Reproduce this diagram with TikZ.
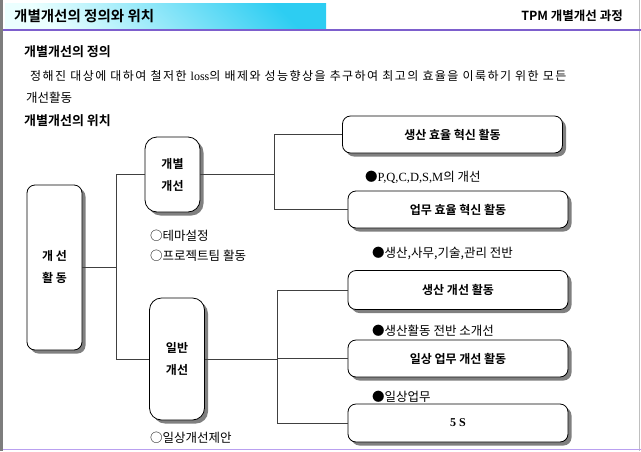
\documentclass[tikz,border=0pt]{standalone}
\usepackage{fontspec}
\setmainfont{Noto Sans CJK KR}[BoldFont={Noto Sans CJK KR Bold}]
\newfontfamily\latser{Liberation Serif}
\usetikzlibrary{shadows}
\definecolor{headcyan}{RGB}{45,205,242}
\definecolor{rulepurple}{RGB}{125,95,205}
\definecolor{lowpurple}{RGB}{185,160,240}
\definecolor{framegray}{RGB}{125,125,125}

\begin{document}
\begin{tikzpicture}[x=1pt, y=-1pt,
    box/.style={draw=black, fill=white, line width=0.8pt, rounded corners=8pt,
        drop shadow={shadow xshift=3.5pt, shadow yshift=-3.5pt, fill=black!50, opacity=1},
        font=\fontsize{12}{22}\selectfont\bfseries, align=center, inner sep=0pt},
    widebox/.style={box, minimum width=220pt, minimum height=37pt},
    tallbox/.style={box, rounded corners=12pt, minimum width=55pt},
    note/.style={anchor=west, inner sep=0pt, font=\fontsize{12.5}{14}\selectfont},
    head/.style={anchor=west, inner sep=0pt, font=\fontsize{13}{15}\selectfont\bfseries},
    link/.style={black!75, line width=0.8pt}]
    \useasboundingbox (0,0) rectangle (641,451);

    % Page frame and title bar
    \fill[framegray] (0,0) rectangle (3,451);
    \draw[black!25] (639.5,0) -- (639.5,451);
    \shade[top color=headcyan, bottom color=cyan!8, shading angle=-45] (5,3) rectangle (326,29);
    \draw[rulepurple, line width=1.5pt] (3,30) -- (641,30);
    \draw[lowpurple, line width=1.5pt] (3,449.5) -- (641,449.5);
    \node[head, font=\fontsize{14.5}{16}\selectfont\bfseries] (title) at (14,16) {개별개선의 정의와 위치};
    \node[head, font=\fontsize{12.5}{15}\selectfont\bfseries, anchor=east] (course) at (623,16) {TPM 개별개선 과정};

    % Definition
    \node[head] (defhead) at (24,52) {개별개선의 정의};
    \node[note, font=\fontsize{12}{14}\selectfont\addfontfeature{LetterSpace=12}] (defline) at (30,76)
        {정해진 대상에 대하여 철저한 {\latser loss}의 배제와 성능향상을 추구하여 최고의 효율을 이룩하기 위한 모든};
    \node[note] (defline2) at (26,98) {개선활동};
    \node[head] (poshead) at (24,121) {개별개선의 위치};

    % Improvement tree
    \node[box, minimum width=55pt, minimum height=165pt] (act) at (54.5,267.5) {개 선\\활 동};
    \node[tallbox, minimum height=75pt] (indiv) at (172.5,174.5) {개별\\개선};
    \node[tallbox, minimum height=122pt] (common) at (177,359) {일반\\개선};

    \node[widebox] (prodeff) at (452.5,134.5) {생산 효율 혁신 활동};
    \node[widebox] (workeff) at (458,209.5) {업무 효율 혁신 활동};
    \node[widebox, minimum height=39pt] (prodimp) at (458,290) {생산 개선 활동};
    \node[widebox] (dailyimp) at (458,358.5) {일상 업무 개선 활동};
    \node[widebox, minimum height=38pt] (fives) at (458,423) {\latser 5 S};

    % Notes under the boxes
    \node[note] (theme) at (150,236) {○테마설정};
    \node[note] (team) at (150,256) {○프로젝트팀 활동};
    \node[note] (suggest) at (150,438) {○일상개선제안};
    \node[note] (pqcdsm) at (365,177) {●{\latser P,Q,C,D,S,M}의 개선};
    \node[note] (allwork) at (372,253) {●생산,사무,기술,관리 전반};
    \node[note] (smallimp) at (372,331) {●생산활동 전반 소개선};
    \node[note] (daily) at (372,397) {●일상업무};

    % Connectors
    \draw[link] (act.east) -- ++(34,0) coordinate (split1);
    \draw[link] (indiv.west) -| (split1) |- (common.west);
    \draw[link] (indiv.east) -- ++(74,0) coordinate (split2);
    \draw[link] (prodeff.west) -| (split2) |- (workeff.west);
    \draw[link] (common.east) -- ++(72,0) coordinate (split3);
    \draw[link] (prodimp.west) -| (split3) |- (fives.west);
    \draw[link] (dailyimp.west) -- (dailyimp.west -| split3);
\end{tikzpicture}
\end{document}
